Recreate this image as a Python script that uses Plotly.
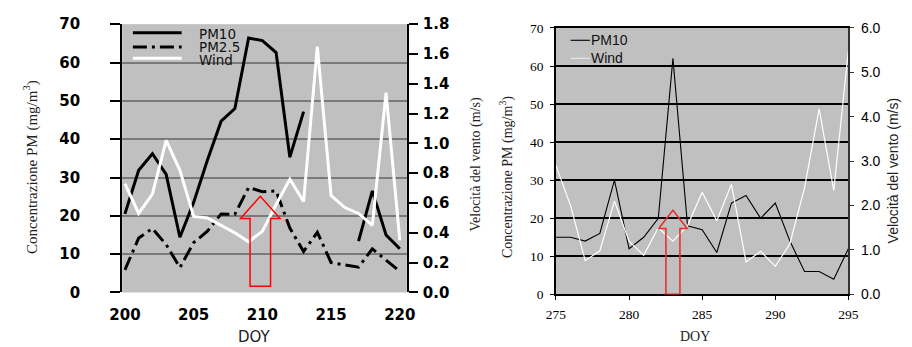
import plotly.graph_objects as go

# ---------------- data (left panel) ----------------
days_a = list(range(200, 221))
pm10_a = [20.5, 31.9, 36.2, 30.8, 14.4, 23.5, 34.5, 44.7, 48.0, 66.4, 65.7, 62.6, 35.3, 47.2,
          None, None, None, 13.4, 26.5, 15.0, 11.4]
pm25_a = [5.9, 14.2, 16.7, 12.5, 6.5, 13.0, 16.0, 20.5, 20.4, 27.4, 26.3, 26.5, 16.8, 10.7,
          15.7, 7.8, 7.2, 6.6, 11.4, 8.5, 5.5]
wind_a = [0.73, 0.53, 0.66, 1.02, 0.82, 0.51, 0.50, 0.45, 0.40, 0.34, 0.41, 0.59, 0.76, 0.61,
          1.65, 0.65, 0.57, 0.53, 0.45, 1.34, 0.35]

# ---------------- data (right panel) ----------------
days_b = list(range(275, 296))
pm10_b = [15, 15, 14, 16, 30, 12, 15, 20, 62, 18, 17, 11, 24, 26, 20, 24, 14, 6, 6, 4, 12]
wind_b = [2.9, 2.0, 0.76, 0.98, 2.1, 1.2, 0.88, 1.5, 1.2, 1.55, 2.3, 1.66, 2.48, 0.73, 0.97,
          0.63, 1.14, 2.4, 4.18, 2.34, 5.49]

xticks_a = [200, 205, 210, 215, 220]
xticks_b = [275, 280, 285, 290, 295]

# arrows: [centre day, tip, head base, bottom, head half-width (days), shaft half-width (days)]
arrow_a = [209.85, 25.1, 19.3, 1.6, 1.44, 0.745]
arrow_b = [283.0, 22.1, 17.3, 0.0, 0.97, 0.48]

W, H = 912, 347
SERIF_FAM = "Liberation Serif"
SANS_FAM = "Liberation Sans"
BOLD = dict(family="DejaVu Sans", size=15, color="black", weight="bold")
SERIF = dict(family=SERIF_FAM, size=13.5, color="black")
SANS = dict(family=SANS_FAM, size=14, color="black")

fig = go.Figure()
fig.add_trace(go.Scatter(x=days_a, y=pm10_a, name="PM10", mode="lines",
                         line=dict(color="black", width=3), xaxis="x", yaxis="y",
                         connectgaps=False))
fig.add_trace(go.Scatter(x=days_a, y=pm25_a, name="PM2.5", mode="lines",
                         line=dict(color="black", width=3, dash="14px,5px,3px,5px"),
                         xaxis="x", yaxis="y"))
fig.add_trace(go.Scatter(x=days_a, y=wind_a, name="Wind", mode="lines",
                         line=dict(color="white", width=3), xaxis="x", yaxis="y2"))
fig.add_trace(go.Scatter(x=days_b, y=pm10_b, name="PM10", mode="lines",
                         line=dict(color="black", width=1.1), xaxis="x2", yaxis="y3"))
fig.add_trace(go.Scatter(x=days_b, y=wind_b, name="Wind", mode="lines",
                         line=dict(color="white", width=1.2), xaxis="x2", yaxis="y4"))


def arrow_path(a):
    c, tip, base, bottom, hh, sh = a
    return (f"M {c - sh},{bottom} L {c - sh},{base} L {c - hh},{base} L {c},{tip} "
            f"L {c + hh},{base} L {c + sh},{base} L {c + sh},{bottom} Z")


def px(x):
    return x / W


def py(y):
    return (H - y) / H


shapes = [
    dict(type="path", xref="x", yref="y", path=arrow_path(arrow_a),
         line=dict(color="red", width=1.5), fillcolor="rgba(0,0,0,0)"),
    dict(type="path", xref="x2", yref="y3", path=arrow_path(arrow_b),
         line=dict(color="#e83030", width=1.6), fillcolor="rgba(0,0,0,0)"),
]

# ---- hand-built legends (sample line + label) ----
legend_a = [("PM10", dict(color="black", width=3), 25, 26),
            ("PM2.5", dict(color="black", width=3, dash="14px,5px,3px,5px"), 40, 40),
            ("Wind", dict(color="white", width=3), 52, 54)]
legend_b = [("PM10", dict(color="black", width=1.1), 33, 33),
            ("Wind", dict(color="#e8e8e8", width=1.2), 52, 52)]

annotations = []
for name, ln, ly, ty in legend_a:
    shapes.append(dict(type="line", xref="paper", yref="paper", x0=px(123), x1=px(173),
                       y0=py(ly), y1=py(ly), line=ln))
    annotations.append(dict(text=name, x=px(189), y=py(ty), xref="paper", yref="paper",
                            showarrow=False, xanchor="left", yanchor="middle",
                            font=dict(family="DejaVu Sans", size=13.5, color="#111")))
for name, ln, ly, ty in legend_b:
    shapes.append(dict(type="line", xref="paper", yref="paper", x0=px(572), x1=px(592),
                       y0=py(ly), y1=py(ly), line=ln))
    annotations.append(dict(text=name, x=px(591), y=py(ty), xref="paper", yref="paper",
                            showarrow=False, xanchor="left", yanchor="middle",
                            font=dict(family=SANS_FAM, size=14, color="#111")))

annotations += [
    dict(text="Concentrazione PM (mg/m<sup>3</sup>)", x=px(18), y=py(167), xref="paper",
         yref="paper", textangle=-90, showarrow=False, xanchor="center", yanchor="middle",
         font=dict(family=SERIF_FAM, size=15, color="#222")),
    dict(text="DOY", x=px(248), y=py(339), xref="paper", yref="paper", showarrow=False,
         xanchor="center", yanchor="middle", yshift=-7,
         font=dict(family="DejaVu Sans", size=15, color="#222")),
    dict(text="Velocità del vento (m/s)", x=px(475), y=py(164), xref="paper", yref="paper",
         textangle=-90, showarrow=False, xanchor="center", yanchor="middle",
         font=dict(family=SERIF_FAM, size=14, color="#222")),
    dict(text="Concentrazione PM (mg/m<sup>3</sup>)", x=px(507), y=py(177), xref="paper",
         yref="paper", textangle=-90, showarrow=False, xanchor="center", yanchor="middle",
         font=dict(family=SERIF_FAM, size=14, color="#222")),
    dict(text="DOY", x=px(700), y=py(338), xref="paper", yref="paper", showarrow=False,
         xanchor="center", yanchor="middle", yshift=-7,
         font=dict(family=SERIF_FAM, size=14, color="#222")),
    dict(text="Velocità del vento (m/s)", x=px(903), y=py(170), xref="paper", yref="paper",
         textangle=-90, showarrow=False, xanchor="center", yanchor="middle",
         font=dict(family=SANS_FAM, size=14, color="#222")),
]

fig.update_layout(
    width=W, height=H, autosize=False, showlegend=False,
    margin=dict(l=0, r=0, t=0, b=0),
    paper_bgcolor="white", plot_bgcolor="#c0c0c0",
    shapes=shapes, annotations=annotations,
    xaxis=dict(domain=[px(112), px(404)], anchor="y", range=[199.8, 220.51],
               tickvals=xticks_a, ticks="", showgrid=False, zeroline=False, showline=False,
               tickfont=BOLD, ticklabelstandoff=12),
    yaxis=dict(domain=[py(299), py(16)], anchor="x", range=[0, 70], dtick=10, tick0=0,
               showgrid=True, gridcolor="#7a7a7a", gridwidth=2, zeroline=False,
               showline=True, linecolor="black", linewidth=2,
               ticks="outside", ticklen=10, tickwidth=1.5, tickcolor="black",
               tickfont=BOLD, ticklabelstandoff=27),
    yaxis2=dict(overlaying="y", side="right", anchor="x", range=[0, 1.8], dtick=0.2, tick0=0,
                tickformat=".1f", showgrid=False, zeroline=False,
                showline=True, linecolor="black", linewidth=2,
                ticks="outside", ticklen=9, tickwidth=1.5, tickcolor="black",
                tickfont=BOLD, ticklabelstandoff=2),
    xaxis2=dict(domain=[px(557), px(857)], anchor="y3", range=[275, 295],
                tickvals=xticks_b, ticks="outside", ticklen=4, tickcolor="black",
                showgrid=False, zeroline=False, showline=True, mirror=True,
                linecolor="black", linewidth=1.5, tickfont=SERIF, ticklabelstandoff=3),
    yaxis3=dict(domain=[py(301), py(20)], anchor="x2", range=[0, 70], dtick=10, tick0=0,
                showgrid=True, gridcolor="black", gridwidth=1.5, zeroline=False,
                showline=True, mirror=True, linecolor="black", linewidth=1.5,
                ticks="outside", ticklen=4, tickcolor="black", tickfont=SERIF,
                ticklabelstandoff=4),
    yaxis4=dict(overlaying="y3", side="right", anchor="x2", range=[0, 6], dtick=1, tick0=0,
                tickformat=".1f", showgrid=False, zeroline=False,
                showline=True, linecolor="#333", linewidth=1.5,
                ticks="outside", ticklen=4, tickcolor="#333", tickfont=SANS,
                ticklabelstandoff=4),
)

fig.write_html("out.html")
